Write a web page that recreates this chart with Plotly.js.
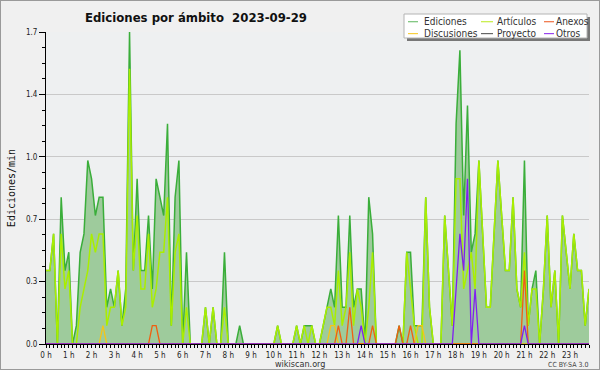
<!DOCTYPE html>
<html>
<head>
<meta charset="utf-8">
<script src="https://cdn.plot.ly/plotly-3.0.1.min.js"></script>
<style>
  html, body { margin: 0; padding: 0; background: #f0f0f0; }
  #chart { width: 598px; height: 368px; border: 1px solid #9a9a9a; }
</style>
</head>
<body>
<div id="chart"></div>
<script>
// Time axis: one point every 10 minutes (0:00 ... 23:50), values in minutes
const minutesOfDay = Array.from({length: 144}, (_, i) => i * 10);

const hourLabels = ["0 h","1 h","2 h","3 h","4 h","5 h","6 h","7 h","8 h","9 h","10 h","11 h",
                    "12 h","13 h","14 h","15 h","16 h","17 h","18 h","19 h","20 h","21 h","22 h","23 h"];
const hourTickMinutes = [0,60,120,180,240,300,360,420,480,540,600,660,
                         720,780,840,900,960,1020,1080,1140,1200,1260,1320,1380];

const yTickVals = [0, 0.34, 0.68, 1.02, 1.36, 1.7];
const yTickText = ["0.0", "0.3", "0.7", "1.0", "1.4", "1.7"];

// Ediciones/min, per 10-minute slot
const ediciones = [
  0.4,0.4,0.6,0,0.8,0.4,0.5,0,0.1,0.5,0.6,1.0,
  0.9,0.7,0.8,0.8,0.2,0.3,0.2,0.4,0.1,0.3,1.7,0.4,
  0.9,0.4,0.4,0.7,0.3,0.9,0.8,0.7,1.2,0.1,0.8,1.0,
  0,0.5,0,0,0,0,0.2,0,0.2,0,0,0.5,
  0,0,0,0.1,0,0,0,0,0,0,0,0,
  0,0.1,0,0,0,0,0.1,0,0.1,0.1,0.1,0,
  0,0.1,0.2,0.3,0.2,0.7,0.2,0.2,0.7,0.2,0.3,0.3,
  0,0.8,0.6,0,0,0,0,0,0,0.1,0,0.5,
  0.5,0.1,0.1,0.1,0.8,0.2,0,0,0,0.7,0.4,0.1,
  1.2,1.6,0.7,1.3,0.5,0.6,1.0,0.6,0.2,0.2,0.6,1.0,
  0.7,0.4,0.4,0.8,0.3,0.2,1.0,0.1,0.3,0.4,0,0.3,
  0.7,0.2,0.4,0,0.7,0.5,0.3,0.6,0.4,0.4,0.1,0.3
];
const articulos = [
  0.4,0.4,0.6,0,0.6,0.3,0.4,0,0,0.2,0.3,0.4,
  0.6,0.5,0.6,0.6,0.1,0.2,0.2,0.4,0.1,0.2,1.5,0.4,
  0.7,0.3,0.3,0.6,0.2,0.3,0.5,0.5,0.8,0.1,0.5,0.6,
  0,0.2,0,0,0,0,0.2,0,0.2,0,0,0.2,
  0,0,0,0,0,0,0,0,0,0,0,0,
  0,0.1,0,0,0,0,0.1,0,0.1,0,0.1,0,
  0,0.1,0.2,0.2,0.1,0.4,0.1,0.2,0.5,0.1,0.3,0.2,
  0,0.2,0.5,0,0,0,0,0,0,0,0,0.5,
  0.3,0.1,0,0,0.8,0.2,0,0,0,0.7,0.4,0.1,
  0.9,0.9,0.3,0.4,0.5,0.3,1.0,0.6,0.2,0.2,0.6,1.0,
  0.7,0.4,0.4,0.8,0.3,0.2,0.5,0.1,0.3,0.3,0,0.3,
  0.7,0.2,0.4,0,0.7,0.5,0.3,0.6,0.4,0.4,0.1,0.3
];
const anexos = [
  0,0,0,0,0,0,0,0,0,0,0,0,
  0,0,0,0,0,0,0,0,0,0,0,0,
  0,0,0,0,0.1,0.1,0,0,0,0,0,0,
  0,0,0,0,0,0,0,0,0,0,0,0,
  0,0,0,0,0,0,0,0,0,0,0,0,
  0,0,0,0,0,0,0,0,0,0,0,0,
  0,0,0,0,0,0.1,0,0,0.2,0,0,0,
  0,0,0.1,0,0,0,0,0,0,0.1,0,0,
  0.1,0,0,0,0,0,0,0,0,0,0,0,
  0,0,0,0,0,0,0,0,0,0,0,0,
  0,0,0,0,0,0,0.4,0,0,0,0,0,
  0,0,0,0,0,0,0,0,0,0,0,0
];
const discusiones = [
  0,0,0,0,0,0,0,0,0,0,0,0,
  0,0,0,0.1,0,0,0,0,0,0,0,0,
  0,0,0,0,0,0,0,0,0,0,0,0,
  0,0,0,0,0,0,0,0,0,0,0,0,
  0,0,0,0,0,0,0,0,0,0,0,0,
  0,0,0,0,0,0,0,0,0,0,0,0,
  0,0,0,0.1,0.1,0,0,0,0,0,0,0,
  0,0,0,0,0,0,0,0,0,0,0,0,
  0,0,0.1,0.1,0,0,0,0,0,0,0,0,
  0,0,0,0,0,0,0,0,0,0,0,0,
  0,0,0,0,0,0,0,0,0,0,0,0,
  0,0,0,0,0,0,0,0,0,0,0,0
];
const proyecto = [
  0,0,0,0,0,0,0,0,0,0,0,0,
  0,0,0,0,0,0,0,0,0,0,0,0,
  0,0,0,0,0,0,0,0,0,0,0,0,
  0,0,0,0,0,0,0,0,0,0,0,0,
  0,0,0,0,0,0,0,0,0,0,0,0,
  0,0,0,0,0,0,0,0,0,0,0,0,
  0,0,0,0,0,0,0,0,0,0,0,0,
  0,0,0,0,0,0,0,0,0,0,0,0,
  0,0,0,0,0,0,0,0,0,0,0,0,
  0,0,0,0,0,0,0,0,0,0,0,0,
  0,0,0,0,0,0,0,0,0,0,0,0,
  0,0,0,0,0,0,0,0,0,0,0,0
];
const otros = [
  0,0,0,0,0,0,0,0,0,0,0,0,
  0,0,0,0,0,0,0,0,0,0,0,0,
  0,0,0,0,0,0,0,0,0,0,0,0,
  0,0,0,0,0,0,0,0,0,0,0,0,
  0,0,0,0,0,0,0,0,0,0,0,0,
  0,0,0,0,0,0,0,0,0,0,0,0,
  0,0,0,0,0,0,0,0,0,0,0,0.1,
  0,0,0,0,0,0,0,0,0,0,0,0,
  0,0,0,0,0,0,0,0,0,0,0,0,
  0.3,0.6,0.4,0.9,0,0.3,0,0,0,0,0,0,
  0,0,0,0,0,0,0.1,0,0,0,0,0,
  0,0,0,0,0,0,0,0,0,0,0,0
];

const seriesNames = ["Ediciones", "Artículos", "Anexos", "Discusiones", "Proyecto", "Otros"];
const lineColors = ["#3aae3a", "#aaee00", "#f06010", "#f5c518", "#555555", "#8020f0"];
const legendColors = ["#77c277", "#c6ee40", "#f07040", "#f8d040", "#666666", "#9944ee"];

const FONT = "'DejaVu Sans Condensed', 'Liberation Sans Narrow', 'DejaVu Sans', sans-serif";

const traces = [
  {x: minutesOfDay, y: ediciones, name: seriesNames[0], type: "scatter", mode: "lines",
   fill: "tozeroy", fillcolor: "#9ecb9c", line: {color: lineColors[0], width: 1.5}},
  {x: minutesOfDay, y: articulos, name: seriesNames[1], type: "scatter", mode: "lines",
   line: {color: lineColors[1], width: 1.5}},
  {x: minutesOfDay, y: proyecto, name: seriesNames[4], type: "scatter", mode: "lines",
   line: {color: lineColors[4], width: 1.2}},
  {x: minutesOfDay, y: discusiones, name: seriesNames[3], type: "scatter", mode: "lines",
   line: {color: lineColors[3], width: 1.3}},
  {x: minutesOfDay, y: anexos, name: seriesNames[2], type: "scatter", mode: "lines",
   line: {color: lineColors[2], width: 1.3}},
  {x: minutesOfDay, y: otros, name: seriesNames[5], type: "scatter", mode: "lines",
   line: {color: lineColors[5], width: 1.3}}
].map(t => Object.assign(t, {showlegend: false, hoverinfo: "skip"}));

// plot area in page pixels: x 46..589, y 32..344
const px = x => (x - 46) / 543;
const py = y => (344 - y) / 312;

// manual legend (3 columns x 2 rows) inside a framed box with shadow
const legendCols = [[408, 418, 423], [481, 493, 495.5], [544, 554, 555]];
const legendRows = [21.7, 33.6];
const legendOrder = [[0, 1, 2], [3, 4, 5]];
const shapes = [
  {type: "rect", xref: "paper", yref: "paper", layer: "above",
   x0: px(407), x1: px(590), y0: py(41), y1: py(17), fillcolor: "#777777", line: {width: 0}},
  {type: "rect", xref: "paper", yref: "paper", layer: "above",
   x0: px(404), x1: px(587), y0: py(38), y1: py(14), fillcolor: "#ffffff", line: {color: "#b4b4b4", width: 1}}
];
const annotations = [];
legendOrder.forEach((row, r) => row.forEach((s, c) => {
  const col = legendCols[c];
  shapes.push({type: "line", xref: "paper", yref: "paper", layer: "above",
    x0: px(col[0]), x1: px(col[1]), y0: py(legendRows[r]), y1: py(legendRows[r]),
    line: {color: legendColors[s], width: 1.2}});
  annotations.push({text: seriesNames[s], xref: "paper", yref: "paper", x: px(col[2]), y: py(legendRows[r]),
    xanchor: "left", yanchor: "middle", showarrow: false, borderpad: 0,
    font: {family: FONT, size: 10, color: "#333"}});
}));
annotations.push({text: "wikiscan.org", xref: "paper", yref: "paper", x: px(300), y: py(363.5),
  xanchor: "center", yanchor: "middle", showarrow: false, borderpad: 0,
  font: {family: FONT, size: 9, color: "#333"}});
annotations.push({text: "CC BY-SA 3.0", xref: "paper", yref: "paper", x: px(589), y: py(365),
  xanchor: "right", yanchor: "middle", showarrow: false, borderpad: 0,
  font: {family: FONT, size: 7, color: "#444"}});

const layout = {
  width: 598, height: 368,
  margin: {l: 45, r: 10, t: 31, b: 25, pad: 0},
  paper_bgcolor: "#f0f0f0",
  plot_bgcolor: "#eef0f1",
  font: {family: FONT, size: 8, color: "#222"},
  title: {
    text: "Ediciones por ámbito\u00a0\u00a02023-09-29",
    font: {family: FONT, size: 13, weight: 700, color: "#111"},
    xref: "container", yref: "container",
    x: 84 / 598, xanchor: "left",
    y: 1 - 16 / 368, yanchor: "middle"
  },
  xaxis: {
    range: [0, 1430],
    tickmode: "array", tickvals: hourTickMinutes, ticktext: hourLabels,
    ticks: "outside", ticklen: 3, tickwidth: 1, tickcolor: "#000",
    showline: true, linecolor: "#000", linewidth: 1,
    showgrid: false, zeroline: false,
    tickfont: {family: FONT, size: 8, color: "#222"},
    minor: {tick0: 0, dtick: 10, ticks: "outside", ticklen: 3, tickcolor: "#000", tickwidth: 1, showgrid: false},
    fixedrange: true
  },
  yaxis: {
    range: [0, 1.7],
    tickmode: "array", tickvals: yTickVals, ticktext: yTickText,
    ticks: "outside", ticklen: 6, tickwidth: 1, tickcolor: "#000",
    showline: true, linecolor: "#000", linewidth: 1,
    showgrid: true, gridcolor: "#c9c9c9", gridwidth: 1, zeroline: false,
    tickfont: {family: FONT, size: 8, color: "#222"},
    minor: {tick0: 0, dtick: 0.085, ticks: "outside", ticklen: 3, tickcolor: "#000", tickwidth: 1, showgrid: false},
    title: {text: "Ediciones/min", standoff: 8,
            font: {family: "'DejaVu Sans Mono', monospace", size: 10, color: "#111"}},
    fixedrange: true
  },
  shapes: shapes,
  annotations: annotations,
  showlegend: false
};

Plotly.newPlot("chart", traces, layout, {displayModeBar: false, staticPlot: true});
</script>
</body>
</html>
